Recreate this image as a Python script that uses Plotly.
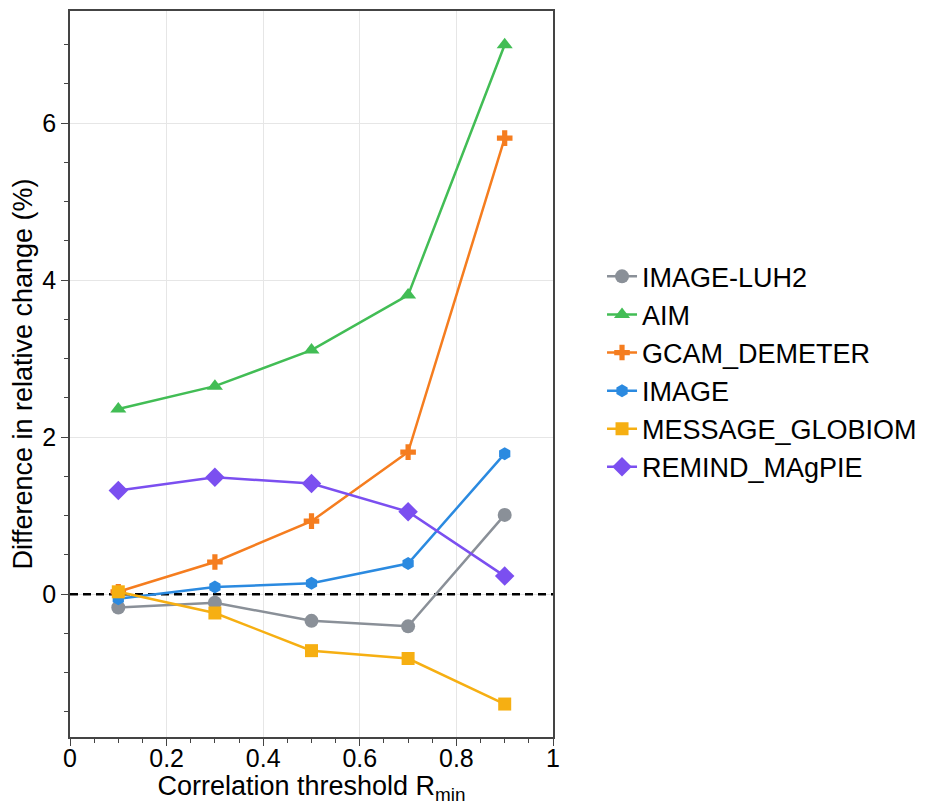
import plotly.graph_objects as go

x_vals = [0.1, 0.3, 0.5, 0.7, 0.9]
image_luh2 = [-0.17, -0.11, -0.34, -0.41, 1.01]
aim = [2.36, 2.65, 3.11, 3.81, 7.0]
gcam = [0.03, 0.41, 0.93, 1.81, 5.81]
image = [-0.06, 0.09, 0.14, 0.39, 1.79]
message = [0.03, -0.24, -0.72, -0.82, -1.40]
remind = [1.32, 1.49, 1.41, 1.05, 0.23]
x_range = [0, 1]
reference_level = 0

series = [
    ("IMAGE-LUH2", image_luh2, "#8a9098", "circle", 14),
    ("AIM", aim, "#42bd55", "triangle-up", 14),
    ("GCAM_DEMETER", gcam, "#f57d1f", "cross", 13),
    ("IMAGE", image, "#2b8ae0", "hexagon", 13),
    ("MESSAGE_GLOBIOM", message, "#f6af12", "square", 13),
    ("REMIND_MAgPIE", remind, "#7b4ff0", "diamond", 15),
]

FONT = "Liberation Sans, Arial, Helvetica, sans-serif"

fig = go.Figure()
# dashed zero reference line (drawn as a trace so it sits above the gridlines)
fig.add_trace(go.Scatter(
    x=x_range, y=[reference_level, reference_level], mode="lines",
    line=dict(color="black", width=2.5, dash="8px,5px"),
    showlegend=False, hoverinfo="skip", cliponaxis=False,
))
for i, (name, vals, col, sym, sz) in enumerate(series):
    fig.add_trace(go.Scatter(
        x=x_vals, y=vals, name=name, mode="lines+markers",
        line=dict(color=col, width=2.5),
        marker=dict(symbol=sym, size=sz, color=col, line=dict(width=0)),
        legendgroup=f"g{i}",
    ))

axis_common = dict(
    showline=True, linecolor="#444", linewidth=1.5, mirror=True,
    ticks="outside", ticklen=7, tickwidth=1.2, tickcolor="#444",
    showgrid=True, gridcolor="#e6e6e6", gridwidth=1, zeroline=False,
    tickfont=dict(size=25, color="black", family=FONT),
    automargin=False,
)

fig.update_xaxes(
    range=x_range, tickvals=[0, 0.2, 0.4, 0.6, 0.8, 1],
    ticktext=["0", "0.2", "0.4", "0.6", "0.8", "1"],
    ticklabelstandoff=-9,
    minor=dict(dtick=0.05, ticks="outside", ticklen=4, tickcolor="#444", showgrid=False),
    title=dict(text="Correlation threshold R<sub>min</sub>", font=dict(size=27, color="black", family=FONT), standoff=9),
    **axis_common,
)
fig.update_yaxes(
    range=[-1.82, 7.43], tickvals=[0, 2, 4, 6],
    minor=dict(dtick=0.5, ticks="outside", ticklen=4, tickcolor="#444", showgrid=False),
    title=dict(text="Difference in relative change (%)", font=dict(size=27, color="black", family=FONT), standoff=9),
    **axis_common,
)

# page body has an 8px default margin, so the figure is sized/offset to compensate
fig.update_layout(
    width=918, height=797,
    margin=dict(l=62, r=373, t=3, b=68),
    plot_bgcolor="white", paper_bgcolor="white",
    font=dict(family=FONT, color="black"),
    legend=dict(
        x=1.1015, xanchor="left", y=0.503, yanchor="middle",
        font=dict(size=27, color="black", family=FONT),
        tracegroupgap=7, traceorder="normal",
        bgcolor="rgba(0,0,0,0)",
    ),
    showlegend=True,
)

fig.write_html("out.html")
